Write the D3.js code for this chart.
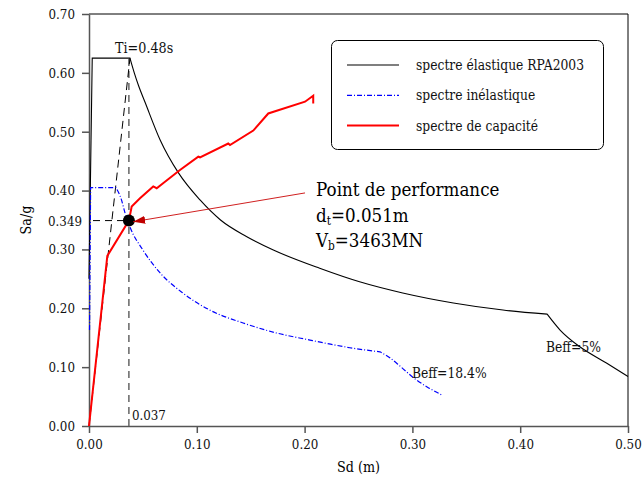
<!DOCTYPE html>
<html>
<head>
<meta charset="utf-8">
<script src="https://cdn.jsdelivr.net/npm/d3@7.9.0/dist/d3.min.js"></script>
<style>
  body { margin: 0; background: #fff; }
  svg text { font-family: "DejaVu Serif", serif; }
</style>
</head>
<body>
<svg width="642" height="478"></svg>
<script>
// elastic spectrum RPA2003 (Beff = 5%)
const elasticSd = [0, 0.003, 0.038, 0.042, 0.046, 0.052, 0.066, 0.083, 0.103, 0.122, 0.146, 0.171, 0.214, 0.251, 0.291, 0.338, 0.384, 0.425, 0.437, 0.455, 0.480, 0.500];
const elasticSa = [0.25, 0.625, 0.625, 0.600, 0.578, 0.550, 0.486, 0.430, 0.384, 0.350, 0.322, 0.299, 0.268, 0.245, 0.226, 0.209, 0.197, 0.190, 0.163, 0.135, 0.107, 0.084];

// inelastic spectrum (Beff = 18.4%)
const inelasticSd = [0.0005, 0.0015, 0.025, 0.030, 0.0334, 0.038, 0.050, 0.066, 0.087, 0.112, 0.143, 0.174, 0.205, 0.224, 0.242, 0.270, 0.279, 0.289, 0.301, 0.314, 0.327];
const inelasticSa = [0.163, 0.405, 0.405, 0.385, 0.362, 0.338, 0.299, 0.260, 0.226, 0.197, 0.175, 0.158, 0.146, 0.139, 0.133, 0.126, 0.116, 0.101, 0.082, 0.066, 0.053];

// capacity spectrum
const capacitySd = [0, 0.017, 0.037, 0.0396, 0.0473, 0.0596, 0.0628, 0.0705, 0.0844, 0.1014, 0.103, 0.1292, 0.1308, 0.1524, 0.1663, 0.2004, 0.208, 0.208];
const capacitySa = [0, 0.289, 0.349, 0.373, 0.387, 0.407, 0.404, 0.415, 0.435, 0.4575, 0.4565, 0.480, 0.4774, 0.502, 0.531, 0.551, 0.561, 0.548];

// performance point and initial stiffness line
const perfSd = 0.037, perfSa = 0.349;
const stiffSd = [0, 0.038], stiffSa = [0, 0.625];

const xTicks = [0, 0.1, 0.2, 0.3, 0.4, 0.5];
const yTicks = [0, 0.1, 0.2, 0.3, 0.4, 0.5, 0.6, 0.7];

const svg = d3.select('svg');
const x = d3.scaleLinear().domain([0, 0.5]).range([89, 628]);
const y = d3.scaleLinear().domain([0, 0.7]).range([426, 14]);

const zip = (a, b) => a.map((v, i) => [v, b[i]]);
const line = d3.line().x(d => x(d[0])).y(d => y(d[1]));
const smooth = d3.line().x(d => x(d[0])).y(d => y(d[1])).curve(d3.curveMonotoneX);

// straight up to the plateau, smooth on the descending branches
function spectrumPath(pts, plateauEnd, kink) {
    return line(pts.slice(0, plateauEnd + 1))
        + smooth(pts.slice(plateauEnd, kink + 1)).replace(/^M/, 'L')
        + smooth(pts.slice(kink)).replace(/^M/, 'L');
}

// frame top + right
svg.append('path')
    .attr('d', `M${x(0)},${y(0.7)}H${x(0.5)}V${y(0)}`)
    .attr('fill', 'none').attr('stroke', '#000').attr('stroke-width', 1);

// axes
const xAxis = svg.append('g').attr('transform', `translate(0,${y(0)})`)
    .call(d3.axisBottom(x).tickValues(xTicks).tickFormat(d3.format('.2f')).tickSize(7).tickSizeOuter(0).tickPadding(6));
const yAxis = svg.append('g').attr('transform', `translate(${x(0)},0)`)
    .call(d3.axisLeft(y).tickValues(yTicks).tickFormat(d3.format('.2f')).tickSize(7).tickSizeOuter(0).tickPadding(7));
[xAxis, yAxis].forEach(g => {
    g.attr('font-family', null);
    g.selectAll('path, line').attr('stroke', '#555').attr('stroke-width', 1.5);
    g.selectAll('text').attr('font-size', 13.5).attr('fill', '#111');
});

// reference dashed lines
svg.append('path')
    .attr('d', `M${x(perfSd)},${y(0)}V${y(0.625)}`)
    .attr('stroke', '#666').attr('stroke-width', 1.5).attr('stroke-dasharray', '7,5').attr('fill', 'none');
svg.append('path')
    .attr('d', `M${x(0) + 4},${y(perfSa)}H${x(perfSd)}`)
    .attr('stroke', '#000').attr('stroke-width', 1).attr('stroke-dasharray', '7,5').attr('fill', 'none');
svg.append('path')
    .attr('d', line(zip(stiffSd, stiffSa)))
    .attr('stroke', '#000').attr('stroke-width', 1).attr('stroke-dasharray', '8,5').attr('fill', 'none');

// spectra
svg.append('path').attr('d', spectrumPath(zip(elasticSd, elasticSa), 2, 17))
    .attr('fill', 'none').attr('stroke', '#000').attr('stroke-width', 1.1);
svg.append('path').attr('d', spectrumPath(zip(inelasticSd, inelasticSa), 2, 15))
    .attr('fill', 'none').attr('stroke', '#0000ff').attr('stroke-width', 1.2).attr('stroke-dasharray', '5,2,1,2');
svg.append('path').attr('d', line(zip(capacitySd, capacitySa)))
    .attr('fill', 'none').attr('stroke', '#ff0000').attr('stroke-width', 2);

// performance point
svg.append('circle').attr('cx', x(perfSd)).attr('cy', y(perfSa)).attr('r', 6).attr('fill', '#000');

// arrow to the point
svg.append('defs').append('marker')
    .attr('id', 'arrow').attr('viewBox', '0 0 12 8').attr('refX', 12).attr('refY', 4)
    .attr('markerWidth', 12).attr('markerHeight', 8).attr('markerUnits', 'userSpaceOnUse').attr('orient', 'auto')
    .append('path').attr('d', 'M0,0L12,4L0,8Z').attr('fill', '#c00000');
svg.append('line')
    .attr('x1', x(0.2004)).attr('y1', y(0.396)).attr('x2', x(0.041)).attr('y2', y(0.347))
    .attr('stroke', '#d02020').attr('stroke-width', 1).attr('marker-end', 'url(#arrow)');

// annotation texts, one <text> per line
svg.append('text').attr('x', 316).attr('y', 196).attr('font-size', 19).text('Point de performance');
const l2 = svg.append('text').attr('x', 316).attr('y', 222).attr('font-size', 19);
l2.append('tspan').text('d');
l2.append('tspan').attr('font-size', 12).attr('dy', 3).text('t');
l2.append('tspan').attr('dy', -3).text('=0.051m');
const l3 = svg.append('text').attr('x', 316).attr('y', 247).attr('font-size', 19);
l3.append('tspan').text('V');
l3.append('tspan').attr('font-size', 12).attr('dy', 3).text('b');
l3.append('tspan').attr('dy', -3).text('=3463MN');

const label = (t, px, py, size) => svg.append('text').attr('x', px).attr('y', py)
    .attr('font-size', size).attr('fill', '#111').text(t);
label('Ti=0.48s', 115, 53, 14.5);
label('0.037', x(perfSd) + 3, 420, 13.5);
label('0.349', 48, y(perfSa) + 5, 13.5);
label('Beff=5%', 546, 352, 14);
label('Beff=18.4%', 412, 378, 14);

// axis titles
svg.append('text').attr('x', x(0.25)).attr('y', 472).attr('text-anchor', 'middle')
    .attr('font-size', 14.5).text('Sd (m)');
svg.append('text').attr('transform', `translate(31,220) rotate(-90)`).attr('text-anchor', 'middle')
    .attr('font-size', 14.5).text('Sa/g');

// legend
const legend = svg.append('g');
legend.append('rect').attr('x', 331.5).attr('y', 40.5).attr('width', 272).attr('height', 109)
    .attr('rx', 6).attr('fill', '#fff').attr('stroke', '#000').attr('stroke-width', 1);
const legendItems = [
    { label: 'spectre élastique RPA2003', color: '#000', dash: null, width: 1.1 },
    { label: 'spectre inélastique', color: '#0000ff', dash: '5,2,1,2', width: 1.2 },
    { label: 'spectre de capacité', color: '#ff0000', dash: null, width: 2 }
];
legendItems.forEach((d, i) => {
    const ly = 65 + i * 30.3;
    legend.append('line').attr('x1', 347).attr('x2', 399).attr('y1', ly).attr('y2', ly)
        .attr('stroke', d.color).attr('stroke-width', d.width).attr('stroke-dasharray', d.dash);
    legend.append('text').attr('x', 416).attr('y', ly + 5).attr('font-size', 14).attr('fill', '#111').text(d.label);
});

// DejaVu Serif runs wider than Times: squeeze every text a bit
svg.selectAll('text').each(function () {
    const w = this.getComputedTextLength();
    d3.select(this).attr('textLength', (w * 0.88).toFixed(1)).attr('lengthAdjust', 'spacingAndGlyphs');
});
</script>
</body>
</html>
